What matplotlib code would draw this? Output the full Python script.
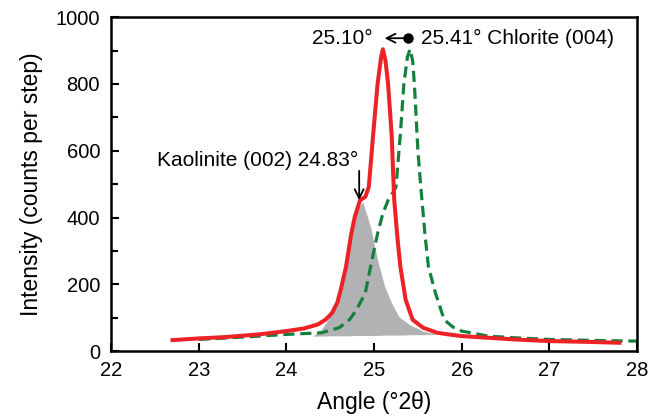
import numpy as np
import matplotlib
matplotlib.use("Agg")
import matplotlib.pyplot as plt
from matplotlib.ticker import MultipleLocator

#______data_________________________________
# red trace (shifted chlorite + kaolinite)
red_x = [22.7, 23.0, 23.3, 23.68, 24.0, 24.2, 24.36, 24.45, 24.52, 24.58, 24.62, 24.68, 24.74,
         24.78, 24.84, 24.9, 24.94, 24.99, 25.04, 25.08, 25.10, 25.13, 25.16, 25.2, 25.23, 25.27,
         25.3, 25.36, 25.44, 25.56, 25.72, 25.85, 26.0, 26.3, 26.6, 27.0, 27.4, 27.8]
red_y = [33, 38, 42, 50, 60, 68, 80, 95, 114, 145, 184, 253, 352,
         402, 452, 462, 492, 650, 800, 880, 904, 870, 800, 650, 452, 330,
         253, 154, 94, 70, 55, 50, 45, 40, 35, 30, 28, 25]

# green trace (original chlorite)
green_x = [23.0, 23.5, 24.0, 24.4, 24.6, 24.72, 24.8, 24.9, 24.96, 25.04, 25.1, 25.16, 25.22,
           25.25, 25.3, 25.34, 25.38, 25.41, 25.44, 25.46, 25.5, 25.53, 25.58, 25.62, 25.7,
           25.8, 25.9, 26.0, 26.3, 26.6, 27.0, 27.5, 28.0]
green_y = [35, 42, 50, 55, 70, 94, 124, 174, 253, 352, 412, 452, 477,
           492, 650, 800, 880, 904, 870, 800, 600, 501, 352, 253, 174,
           94, 72, 60, 45, 40, 35, 32, 30]

# kaolinite (002) component, gray area
kao_x = [24.3, 24.4, 24.55, 24.65, 24.72, 24.8, 24.87, 24.96, 25.04, 25.12, 25.2, 25.28, 25.4,
         25.56, 25.72]
kao_y = [45, 65, 124, 233, 333, 422, 447, 372, 273, 194, 144, 104, 80, 60, 50]
kao_base = [45, 45, 46, 46, 46, 47, 47, 47, 47, 48, 48, 48, 49, 49, 50]

#______figure__________
plt.rcParams["font.family"] = ["Liberation Sans", "DejaVu Sans"]
fig = plt.figure(figsize=(6.5, 4.19), dpi=100)
ax = fig.add_axes([0.171, 0.162, 0.809, 0.797])

ax.fill_between(kao_x, kao_base, kao_y, color="#b1b2b4", lw=0, zorder=1)
ax.plot(green_x, green_y, color="#15803d", lw=2.3, ls=(0, (3.5, 1.8)), zorder=2)
ax.plot(red_x, red_y, color="#ec2227", lw=2.9, zorder=3)

# peak shift annotation
ax.annotate("", xy=(25.12, 937), xytext=(25.39, 937),
            arrowprops=dict(arrowstyle="->", color="black", lw=1.3, shrinkA=0, shrinkB=0,
                            mutation_scale=16))
ax.plot([25.39], [937], "o", color="black", ms=6.5, zorder=4)
ax.text(24.98, 937, "25.10°", ha="right", va="center", fontsize=15)
ax.text(25.53, 937, "25.41° Chlorite (004)", ha="left", va="center", fontsize=15)

# kaolinite annotation
ax.text(24.82, 572, "Kaolinite (002) 24.83°", ha="right", va="center", fontsize=15)
ax.annotate("", xy=(24.83, 452), xytext=(24.83, 540),
            arrowprops=dict(arrowstyle="->", color="black", lw=1.3, shrinkA=0, shrinkB=0,
                            mutation_scale=16))

ax.set_xlim(22, 28)
ax.set_ylim(0, 1000)
ax.xaxis.set_major_locator(MultipleLocator(1))
ax.yaxis.set_major_locator(MultipleLocator(200))
ax.yaxis.set_minor_locator(MultipleLocator(100))
ax.tick_params(which="both", direction="in", labelsize=14.5, width=1.5)
ax.tick_params(which="major", length=6)
ax.tick_params(which="minor", length=5)
ax.tick_params(axis="x", pad=7)
ax.tick_params(axis="y", pad=8)
for s in ax.spines.values():
    s.set_linewidth(1.8)

ax.set_xlabel("Angle (°2θ)", fontsize=16.5, labelpad=8)
ax.set_ylabel("Intensity (counts per step)", fontsize=16.5, labelpad=9)

fig.savefig("out.png", dpi=100)
